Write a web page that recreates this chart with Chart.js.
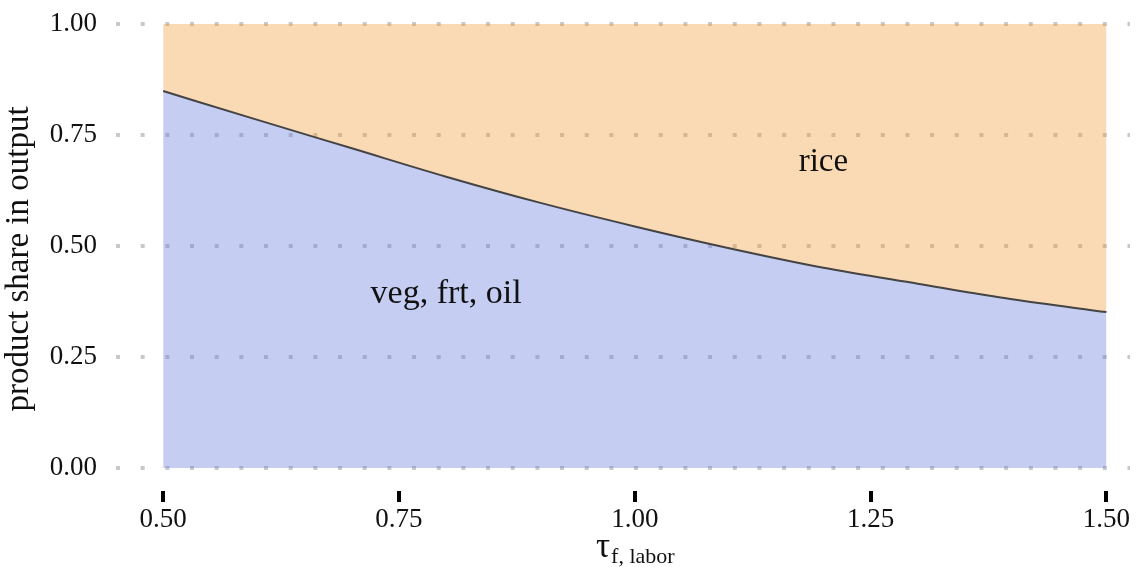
<!DOCTYPE html>
<html>
<head>
<meta charset="utf-8">
<script src="https://cdn.jsdelivr.net/npm/chart.js@4.4.1/dist/chart.umd.min.js"></script>
<style>
  html, body { margin: 0; padding: 0; background: #fff; }
  #wrap { width: 1140px; height: 567px; position: relative; }
</style>
</head>
<body>
<div id="wrap"><canvas id="c" width="1140" height="567"></canvas></div>
<script>
// ---- data ----
const tauValues = [0.5, 0.6, 0.7, 0.8, 0.9, 1.0, 1.1, 1.2, 1.3, 1.4, 1.5];
const vegShare  = [0.849, 0.784, 0.720, 0.656, 0.597, 0.544, 0.495, 0.451, 0.415, 0.380, 0.351];
const riceShare = [0.151, 0.216, 0.280, 0.344, 0.403, 0.456, 0.505, 0.549, 0.585, 0.620, 0.649];
const xTicks = [0.5, 0.75, 1.0, 1.25, 1.5];
const yTicks = [0, 0.25, 0.5, 0.75, 1.0];
const seriesNames = ['veg, frt, oil', 'rice'];
const labelPos = [[0.8, 0.372], [1.2, 0.668]];

const FONT = '"Liberation Serif", "DejaVu Serif", serif';

const textPlugin = {
  id: 'texts',
  afterDraw(chart) {
    const ctx = chart.ctx;
    const xs = chart.scales.x, ys = chart.scales.y;
    ctx.save();
    ctx.fillStyle = '#111';
    ctx.textAlign = 'center';
    ctx.textBaseline = 'alphabetic';
    seriesNames.forEach((n, i) => {
      ctx.font = (i === 0 ? '34px ' : '33px ') + FONT;
      ctx.fillText(n, xs.getPixelForValue(labelPos[i][0]), ys.getPixelForValue(labelPos[i][1]));
    });
    // y title
    ctx.save();
    ctx.translate(28, 259);
    ctx.rotate(-Math.PI / 2);
    ctx.font = '33px ' + FONT;
    ctx.textAlign = 'center';
    ctx.fillText('product share in output', 0, 0);
    ctx.restore();
    // x title: tau with subscript
    const big = '35px ' + FONT, small = '22px ' + FONT;
    ctx.font = big; const w1 = ctx.measureText('τ').width;
    ctx.font = small; const w2 = ctx.measureText('f, labor').width;
    const cx = xs.getPixelForValue(1.0);
    const x0 = cx - (w1 + w2) / 2;
    ctx.textAlign = 'left';
    ctx.font = big; ctx.fillText('τ', x0, 557);
    ctx.font = small; ctx.fillText('f, labor', x0 + w1 + 1, 563);
    ctx.restore();
  }
};

new Chart(document.getElementById('c'), {
  type: 'line',
  data: {
    datasets: [
      {
        label: seriesNames[0],
        data: tauValues.map((t, i) => ({ x: t, y: vegShare[i] })),
        borderColor: '#444444',
        borderWidth: 2,
        backgroundColor: 'rgba(100,120,222,0.37)',
        fill: 'origin',
        pointRadius: 0,
        cubicInterpolationMode: 'monotone'
      },
      {
        label: seriesNames[1],
        data: tauValues.map((t, i) => ({ x: t, y: riceShare[i] })),
        borderWidth: 0,
        borderColor: 'rgba(0,0,0,0)',
        backgroundColor: 'rgba(240,150,50,0.36)',
        fill: '-1',
        pointRadius: 0,
        cubicInterpolationMode: 'monotone'
      }
    ]
  },
  options: {
    responsive: false,
    animation: false,
    events: [],
    layout: { padding: { top: 24, right: 10, left: 0, bottom: 0 } },
    plugins: { legend: { display: false }, tooltip: { enabled: false } },
    scales: {
      x: {
        type: 'linear',
        min: 0.45,
        max: 1.525,
        afterBuildTicks(s) { s.ticks = xTicks.map(v => ({ value: v })); },
        afterFit(s) { s.height = 76; s.paddingLeft = 0; s.paddingRight = 0; },
        grid: {
          drawOnChartArea: false,
          drawTicks: true,
          tickLength: 11,
          lineWidth: 4,
          color: '#000'
        },
        border: { display: false },
        ticks: {
          font: { family: FONT, size: 27 },
          color: '#111',
          padding: 2,
          callback: v => Number(v).toFixed(2)
        }
      },
      y: {
        type: 'linear',
        stacked: true,
        min: -0.0520,
        max: 1.0,
        afterBuildTicks(s) { s.ticks = yTicks.map(v => ({ value: v })); },
        afterFit(s) { s.width = 116; s.paddingTop = 0; s.paddingBottom = 0; },
        grid: {
          drawTicks: false,
          lineWidth: 4,
          color: '#c9c9c9'
        },
        border: { display: false, dash: [4, 20.67] },
        ticks: {
          font: { family: FONT, size: 27 },
          color: '#111',
          padding: 19,
          callback: v => Number(v).toFixed(2)
        }
      }
    }
  },
  plugins: [textPlugin]
});
</script>
</body>
</html>
